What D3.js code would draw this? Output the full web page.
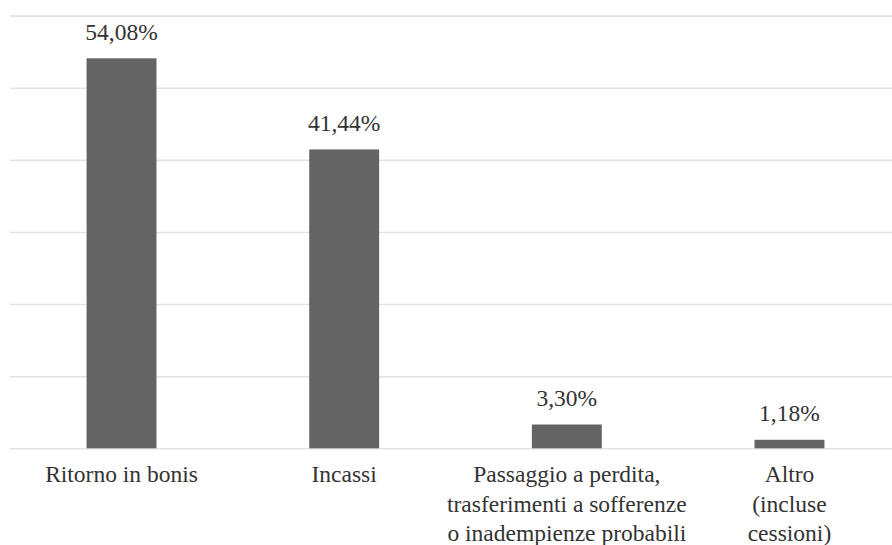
<!DOCTYPE html>
<html>
<head>
<meta charset="utf-8">
<script src="https://cdn.jsdelivr.net/npm/d3@7"></script>
<style>
  html, body { margin: 0; padding: 0; background: #fff; }
  svg { display: block; }
  svg text { font-family: "Liberation Serif", "Noto Serif", "Tinos", "DejaVu Serif", "FreeSerif", "Nimbus Roman", "Times New Roman", Times, Georgia, serif; }
</style>
</head>
<body>
<svg id="chart" width="892" height="545"></svg>
<script>
const categories = [
  ["Ritorno in bonis"],
  ["Incassi"],
  ["Passaggio a perdita,", "trasferimenti a sofferenze", "o inadempienze probabili"],
  ["Altro", "(incluse", "cessioni)"]
];
const values = [54.08, 41.44, 3.30, 1.18];
const valueLabels = ["54,08%", "41,44%", "3,30%", "1,18%"];
const yTicks = [0, 10, 20, 30, 40, 50, 60];

const W = 892, H = 545;
const svg = d3.select("#chart");

const x = d3.scaleBand()
  .domain(d3.range(categories.length))
  .range([10.2, 900.8])
  .paddingInner(0.686)
  .paddingOuter(0.343);

const y = d3.scaleLinear().domain([0, 60]).range([448.3, 15.6]);

// gridlines
const grid = svg.append("g")
  .attr("transform", "translate(10,0)")
  .call(d3.axisLeft(y).tickValues(yTicks).tickSize(-(W - 10)).tickFormat(""));
grid.select(".domain").remove();
grid.selectAll(".tick line")
  .attr("stroke", "#e3e3e3")
  .attr("stroke-width", 1.6);

// bars
svg.append("g").selectAll("rect")
  .data(values)
  .join("rect")
  .attr("x", (d, i) => x(i))
  .attr("width", x.bandwidth())
  .attr("y", d => y(d))
  .attr("height", d => y(0) - y(d))
  .attr("fill", "#646464");

// value labels
svg.append("g").selectAll("text")
  .data(values)
  .join("text")
  .attr("x", (d, i) => x(i) + x.bandwidth() / 2)
  .attr("y", d => y(d) - 18.5)
  .attr("text-anchor", "middle")
  .attr("font-size", 23.5)
  .attr("fill", "#333")
  .text((d, i) => valueLabels[i]);

// category labels
const cat = svg.append("g").selectAll("text")
  .data(categories)
  .join("text")
  .attr("text-anchor", "middle")
  .attr("font-size", 23.5)
  .attr("fill", "#333");
cat.each(function(lines, i) {
  const t = d3.select(this);
  lines.forEach((ln, j) => {
    t.append("tspan")
      .attr("x", x(i) + x.bandwidth() / 2)
      .attr("y", y(0) + 34 + j * 29.2)
      .text(ln);
  });
});
</script>
</body>
</html>
